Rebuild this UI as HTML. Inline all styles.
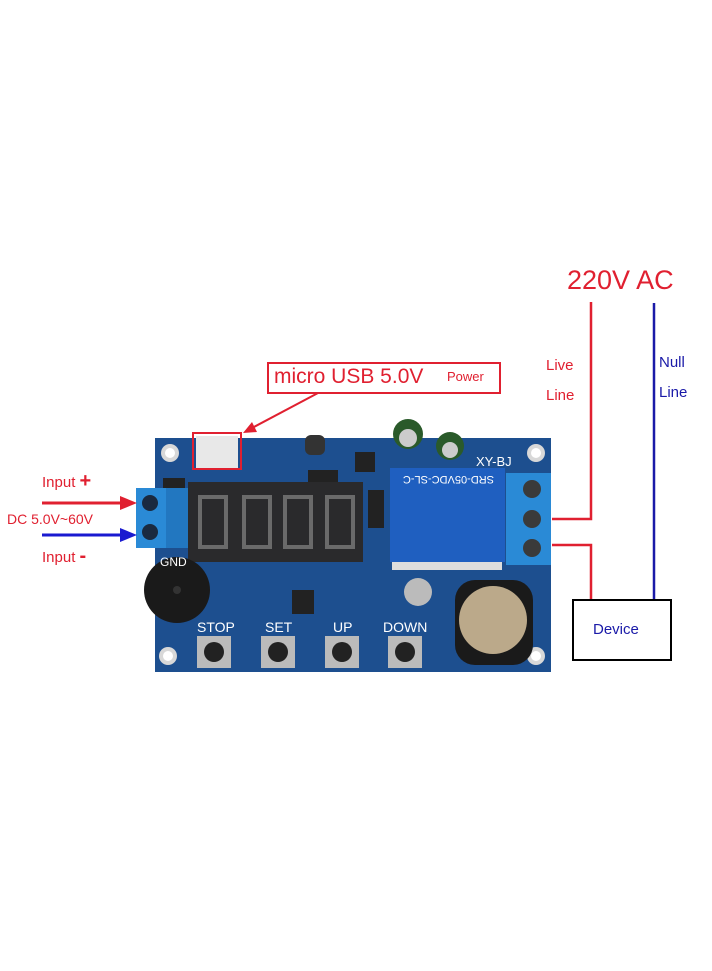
<!DOCTYPE html>
<html><head><meta charset="utf-8"><style>
body{margin:0;width:712px;height:971px;background:#fff;position:relative;overflow:hidden;font-family:"Liberation Sans",sans-serif}
.a{position:absolute}
</style></head><body>
<svg class="a" style="left:0;top:0" width="712" height="971">
<!-- board -->
<rect x="155" y="438" width="396" height="234" fill="#1d4f8f"/>
<circle cx="170" cy="453" r="9" fill="#d8d8d8"/><circle cx="170" cy="453" r="5" fill="#fff"/>
<circle cx="536" cy="453" r="9" fill="#d8d8d8"/><circle cx="536" cy="453" r="5" fill="#fff"/>
<circle cx="168" cy="656" r="9" fill="#d8d8d8"/><circle cx="168" cy="656" r="5" fill="#fff"/>
<circle cx="536" cy="656" r="9" fill="#d8d8d8"/><circle cx="536" cy="656" r="5" fill="#fff"/>
<!-- usb -->
<rect x="196" y="436" width="42" height="32" fill="#e8e8e8"/>
<rect x="193" y="433" width="48" height="36" fill="none" stroke="#e02030" stroke-width="2"/>
<!-- components -->
<rect x="305" y="435" width="20" height="20" rx="6" fill="#333"/>
<rect x="355" y="452" width="20" height="20" fill="#222"/>
<rect x="308" y="470" width="30" height="12" fill="#222"/>
<rect x="163" y="478" width="22" height="12" fill="#222"/>
<circle cx="408" cy="434" r="15" fill="#2a5a2a"/><circle cx="408" cy="438" r="9" fill="#ccc"/>
<circle cx="450" cy="446" r="14" fill="#2a5a2a"/><circle cx="450" cy="450" r="8" fill="#ccc"/>
<!-- display -->
<rect x="188" y="482" width="175" height="80" fill="#2a2a2c"/>
<g fill="none" stroke="#6a6a6a" stroke-width="4">
<rect x="200" y="497" width="26" height="50"/><rect x="244" y="497" width="26" height="50"/>
<rect x="285" y="497" width="26" height="50"/><rect x="327" y="497" width="26" height="50"/>
</g>
<rect x="368" y="490" width="16" height="38" fill="#222"/>
<!-- relay -->
<rect x="390" y="468" width="115" height="94" fill="#1f5fc0"/>
<rect x="392" y="562" width="110" height="8" fill="#ddd"/>
<text x="400" y="484" fill="#fff" font-size="11" transform="rotate(180 447 480)">SRD-05VDC-SL-C</text>
<!-- terminals -->
<rect x="506" y="473" width="45" height="92" fill="#2a8ad6"/>
<circle cx="532" cy="489" r="9" fill="#3a3a3a"/><circle cx="532" cy="519" r="9" fill="#3a3a3a"/><circle cx="532" cy="548" r="9" fill="#3a3a3a"/>
<rect x="136" y="488" width="30" height="60" fill="#2a8ad6"/><rect x="166" y="488" width="22" height="60" fill="#2277c0"/>
<circle cx="150" cy="503" r="8" fill="#1a2a40"/><circle cx="150" cy="532" r="8" fill="#1a2a40"/>
<!-- buzzer, coin cell -->
<circle cx="177" cy="590" r="33" fill="#1a1a1a"/><circle cx="177" cy="590" r="4" fill="#333"/>
<rect x="455" y="580" width="78" height="85" rx="20" fill="#1a1a1a"/>
<circle cx="493" cy="620" r="34" fill="#bba98a"/>
<circle cx="418" cy="592" r="14" fill="#bbb"/>
<rect x="292" y="590" width="22" height="24" fill="#222"/>
<!-- buttons -->
<g fill="#bbb"><rect x="197" y="636" width="34" height="32"/><rect x="261" y="636" width="34" height="32"/><rect x="325" y="636" width="34" height="32"/><rect x="388" y="636" width="34" height="32"/></g>
<g fill="#222"><circle cx="214" cy="652" r="10"/><circle cx="278" cy="652" r="10"/><circle cx="342" cy="652" r="10"/><circle cx="405" cy="652" r="10"/></g>
<g fill="#fff" font-size="14"><text x="197" y="632">STOP</text><text x="265" y="632">SET</text><text x="333" y="632">UP</text><text x="383" y="632">DOWN</text>
<text x="476" y="466" font-size="13">XY-BJ</text><text x="160" y="566" font-size="12">GND</text></g>
<!-- wires -->
<polyline points="591,302 591,519 552,519" fill="none" stroke="#e02030" stroke-width="2.5"/>
<polyline points="552,545 591,545 591,600" fill="none" stroke="#e02030" stroke-width="2.5"/>
<line x1="654" y1="303" x2="654" y2="600" stroke="#1a1aa8" stroke-width="2.5"/>
<rect x="573" y="600" width="98" height="60" fill="#fff" stroke="#000" stroke-width="2"/>
<!-- input arrows -->
<line x1="42" y1="503" x2="122" y2="503" stroke="#e02030" stroke-width="3"/>
<polygon points="120,496 137,503 120,510" fill="#e02030"/>
<line x1="42" y1="535" x2="122" y2="535" stroke="#1a1ad0" stroke-width="3"/>
<polygon points="120,528 137,535 120,542" fill="#1a1ad0"/>
<!-- usb label -->
<rect x="268" y="363" width="232" height="30" fill="#fff" stroke="#e02030" stroke-width="2"/>
<line x1="318" y1="393" x2="252" y2="428" stroke="#e02030" stroke-width="2"/>
<polygon points="243,433 252,422 257,432" fill="#e02030"/>
</svg>
<div class="a" style="left:274px;top:365px;font-size:21px;color:#e02030">micro USB 5.0V</div>
<div class="a" style="left:447px;top:369px;font-size:13px;color:#e02030">Power</div>
<div class="a" style="left:567px;top:265px;font-size:27px;color:#e02030">220V AC</div>
<div class="a" style="left:546px;top:351px;font-size:15px;color:#e02030;line-height:30px">Live<br>Line</div>
<div class="a" style="left:659px;top:348px;font-size:15px;color:#1a1aa8;line-height:30px">Null<br>Line</div>
<div class="a" style="left:593px;top:621px;font-size:15px;color:#1a1aa8">Device</div>
<div class="a" style="left:42px;top:470px;font-size:15px;color:#e02030">Input <b style="font-size:20px">+</b></div>
<div class="a" style="left:7px;top:511px;font-size:14px;color:#e02030">DC 5.0V~60V</div>
<div class="a" style="left:42px;top:545px;font-size:15px;color:#e02030">Input <b style="font-size:20px">-</b></div>
</body></html>
